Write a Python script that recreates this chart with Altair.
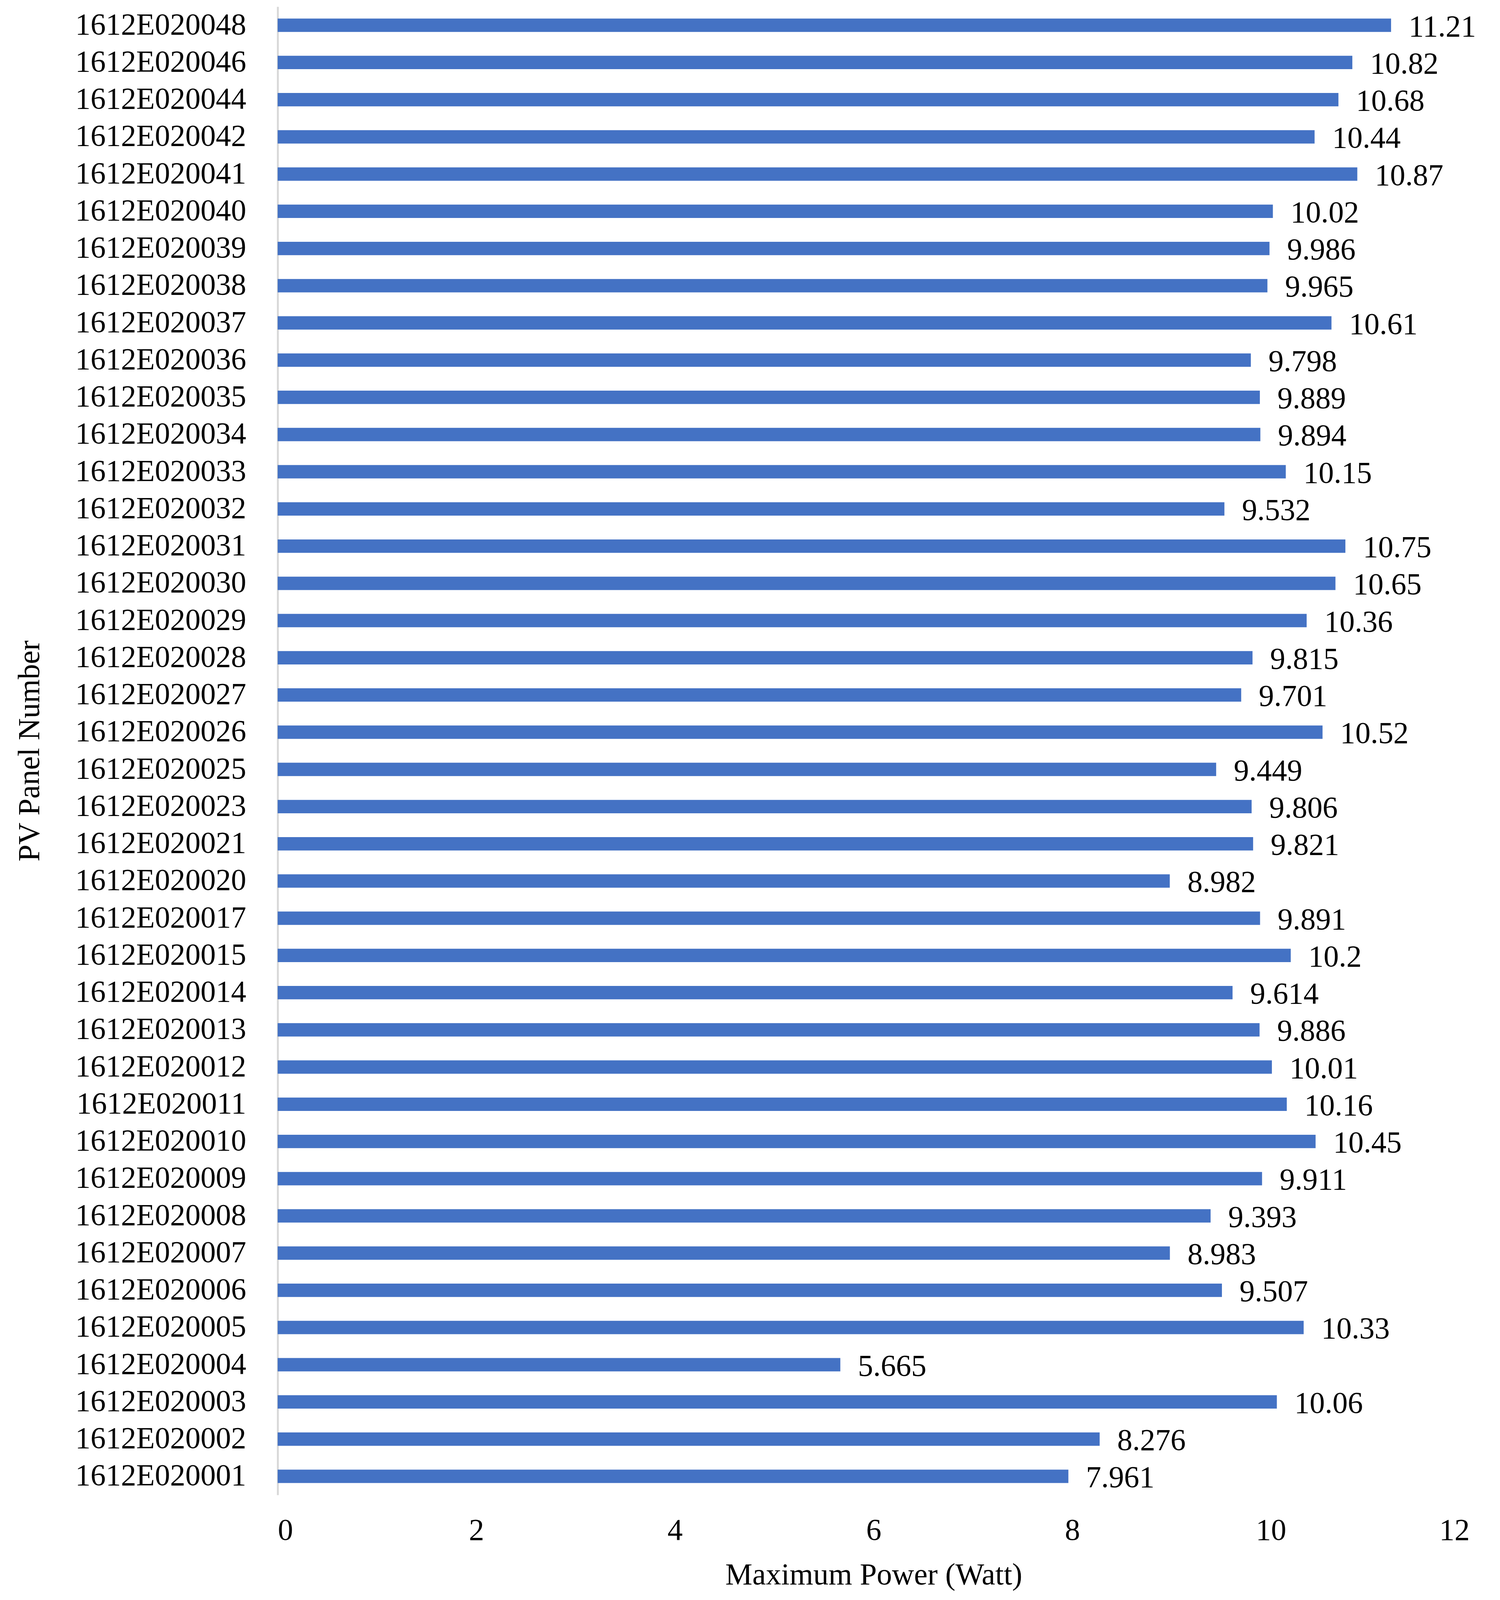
import altair as alt
import pandas as pd

panels = ["1612E020048", "1612E020046", "1612E020044", "1612E020042", "1612E020041",
          "1612E020040", "1612E020039", "1612E020038", "1612E020037", "1612E020036",
          "1612E020035", "1612E020034", "1612E020033", "1612E020032", "1612E020031",
          "1612E020030", "1612E020029", "1612E020028", "1612E020027", "1612E020026",
          "1612E020025", "1612E020023", "1612E020021", "1612E020020", "1612E020017",
          "1612E020015", "1612E020014", "1612E020013", "1612E020012", "1612E020011",
          "1612E020010", "1612E020009", "1612E020008", "1612E020007", "1612E020006",
          "1612E020005", "1612E020004", "1612E020003", "1612E020002", "1612E020001"]
power = [11.21, 10.82, 10.68, 10.44, 10.87, 10.02, 9.986, 9.965, 10.61, 9.798,
         9.889, 9.894, 10.15, 9.532, 10.75, 10.65, 10.36, 9.815, 9.701, 10.52,
         9.449, 9.806, 9.821, 8.982, 9.891, 10.2, 9.614, 9.886, 10.01, 10.16,
         10.45, 9.911, 9.393, 8.983, 9.507, 10.33, 5.665, 10.06, 8.276, 7.961]
x_ticks = [0, 2, 4, 6, 8, 10, 12]

df = pd.DataFrame({"panel": panels, "power": power})
df["label"] = [str(v) for v in power]

FONT = "Liberation Serif"
FS = 78
H = 3810

y_enc = alt.Y("panel:N", sort=panels,
              scale=alt.Scale(paddingInner=0.64, paddingOuter=0.32),
              axis=alt.Axis(title="PV Panel Number", labelFont=FONT, labelFontSize=FS,
                            labelColor="black", labelLimit=0, titleFont=FONT, titleFontSize=FS,
                            titleFontWeight="normal", titleColor="black",
                            titleX=-635, titleY=H / 2, titleBaseline="middle",
                            titleAlign="center", titleAngle=270,
                            ticks=False, domainColor="#d9d9d9", domainWidth=5,
                            labelPadding=81))
x_enc = alt.X("power:Q", scale=alt.Scale(domain=[0, 12], nice=False),
              axis=alt.Axis(title="Maximum Power (Watt)", values=x_ticks, format="d",
                            labelFont=FONT, labelFontSize=FS, labelColor="black",
                            titleFont=FONT, titleFontSize=FS, titleFontWeight="normal",
                            titleColor="black", ticks=False, domain=False, grid=False,
                            labelPadding=52, titlePadding=36))

bars = alt.Chart(df).mark_bar(color="#4472C4").encode(x=x_enc, y=y_enc)
labels = alt.Chart(df).mark_text(align="left", baseline="middle", dx=45, dy=5,
                                 font=FONT, fontSize=FS, color="black").encode(
    x="power:Q", y=alt.Y("panel:N", sort=panels), text="label:N")

chart = (bars + labels).properties(
    width=3052, height=H,
    background="white",
    autosize=alt.AutoSizeParams(type="none"),
    padding={"left": 703, "top": 9, "right": 70, "bottom": 260},
).configure_view(stroke=None)

chart.save("out.html", embed_options={"renderer": "svg", "actions": False})
